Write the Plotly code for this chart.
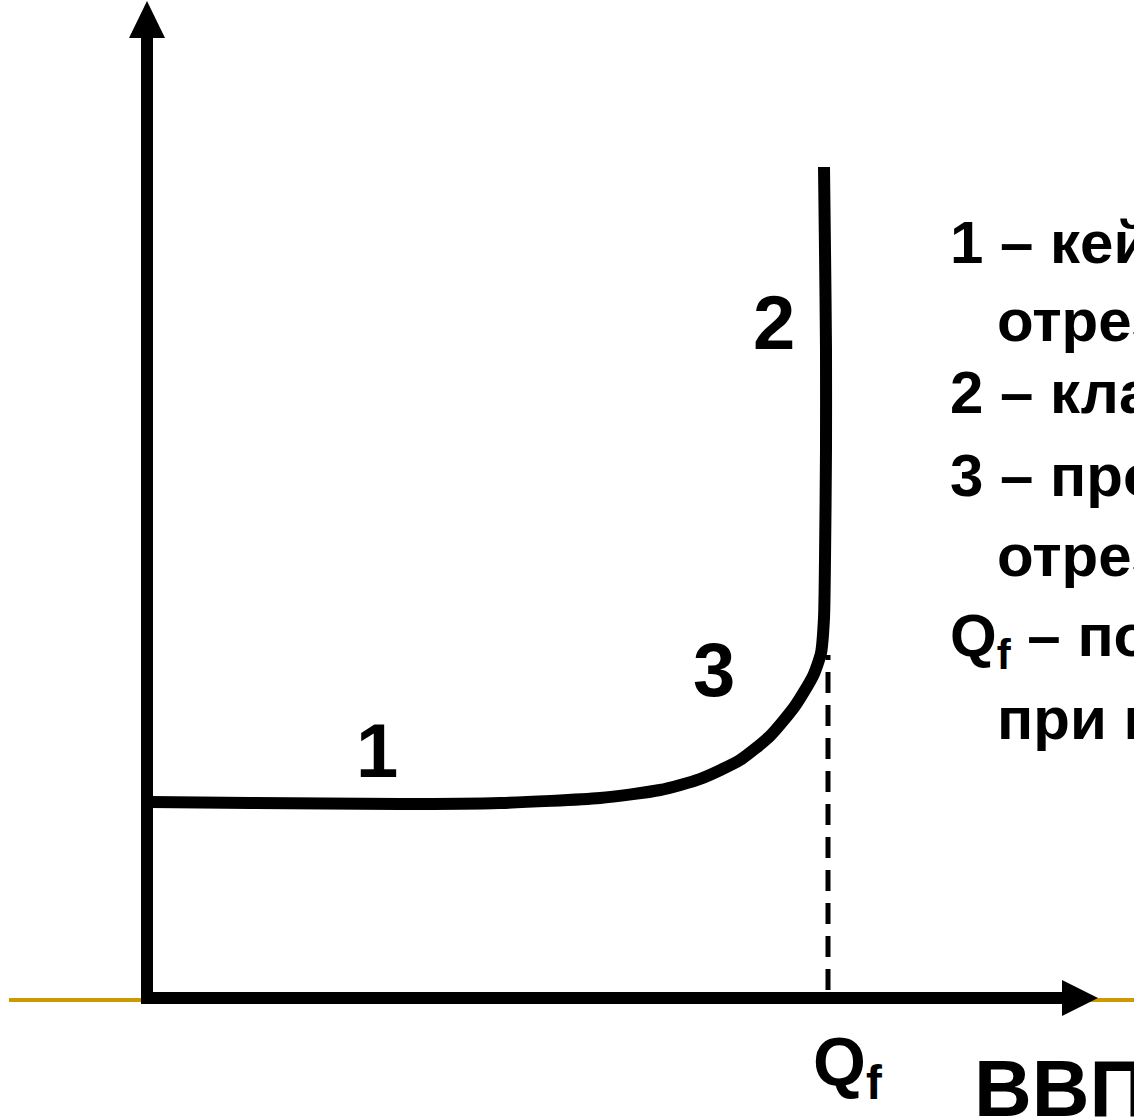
import plotly.graph_objects as go

# ---- data (economic coordinates: x = real GDP, y = price level) ----
curve_x = [3, 103, 253, 353, 453, 513, 553, 593, 623, 648, 666, 674, 677, 678, 679, 679, 678, 677]
curve_y = [196, 195, 194, 195, 200, 208, 219, 238, 262, 292, 322, 345, 380, 438, 548, 648, 748, 831]

qf_x = 681
qf_dash_y = [8, 343]

x_axis_end = 951   # arrow tip along x
y_axis_end = 997   # arrow tip along y

seg_labels = ["1", "2", "3"]
seg_label_x = [230, 627, 567]
seg_label_y = [248, 676, 329]

legend_lines = ["<b>1 – кейнсианский</b>", "<b>отрезок</b>", "<b>2 – классический отрезок</b>",
                "<b>3 – промежуточный</b>", "<b>отрезок</b>",
                "<b>Q</b><sub><b>f</b></sub><b> – потенциальный ВВП</b>", "<b>при полной занятости</b>"]
legend_x = [801, 848, 801, 801, 848, 801, 848]
legend_y = [756, 678, 606, 523, 443, 358, 280]

X_RANGE = [-147, 987]
Y_RANGE = [-120, 998]

FONT = "Arial, Liberation Sans, sans-serif"

fig = go.Figure()

# curve AS
fig.add_trace(go.Scatter(x=curve_x, y=curve_y, mode="lines",
                         line=dict(color="black", width=12, shape="spline", smoothing=0.6),
                         hoverinfo="skip", showlegend=False))
# dashed Qf line
fig.add_trace(go.Scatter(x=[qf_x, qf_x], y=qf_dash_y, mode="lines",
                         line=dict(color="black", width=5, dash="21px,12px"),
                         hoverinfo="skip", showlegend=False))

shapes = []
# golden slide line
shapes.append(dict(type="line", xref="x", yref="y", x0=X_RANGE[0] + 9, x1=X_RANGE[1], y0=-2, y1=-2,
                   line=dict(color="#CC9900", width=4), layer="below"))
# axes
shapes.append(dict(type="line", xref="x", yref="y", x0=-6, x1=x_axis_end - 36, y0=0, y1=0,
                   line=dict(color="black", width=12)))
shapes.append(dict(type="line", xref="x", yref="y", x0=0, x1=0, y0=-6, y1=y_axis_end - 36,
                   line=dict(color="black", width=12)))
# arrow heads
shapes.append(dict(type="path", xref="x", yref="y",
                   path=f"M {x_axis_end - 36} 18 L {x_axis_end} 0 L {x_axis_end - 36} -18 Z",
                   fillcolor="black", line=dict(width=0)))
shapes.append(dict(type="path", xref="x", yref="y",
                   path=f"M -18 {y_axis_end - 37} L 0 {y_axis_end} L 18 {y_axis_end - 37} Z",
                   fillcolor="black", line=dict(width=0)))

annotations = []
for t, x, y in zip(seg_labels, seg_label_x, seg_label_y):
    annotations.append(dict(text=f"<b>{t}</b>", x=x, y=y, xref="x", yref="y", showarrow=False,
                            xanchor="center", yanchor="middle",
                            font=dict(family=FONT, size=76, color="black")))
for t, x, y in zip(legend_lines, legend_x, legend_y):
    annotations.append(dict(text=t, x=x, y=y, xref="x", yref="y", showarrow=False,
                            xanchor="left", yanchor="middle",
                            font=dict(family=FONT, size=60, color="black")))
annotations.append(dict(text="<b>Q</b><sub><b>f</b></sub>", x=qf_x + 19, y=-68, xref="x", yref="y",
                        showarrow=False, xanchor="center", yanchor="middle",
                        font=dict(family=FONT, size=68, color="black")))
annotations.append(dict(text="<b>ВВП</b>", x=825, y=-90, xref="x", yref="y",
                        showarrow=False, xanchor="left", yanchor="middle",
                        font=dict(family=FONT, size=80, color="black")))

fig.update_layout(
    width=1134, height=1118,
    margin=dict(l=0, r=0, t=0, b=0),
    paper_bgcolor="white", plot_bgcolor="white",
    xaxis=dict(range=X_RANGE, visible=False, fixedrange=True),
    yaxis=dict(range=Y_RANGE, visible=False, fixedrange=True),
    shapes=shapes, annotations=annotations, showlegend=False,
)

fig.write_html("out.html", config={"displayModeBar": False},
               post_script="document.body.style.margin='0';")
